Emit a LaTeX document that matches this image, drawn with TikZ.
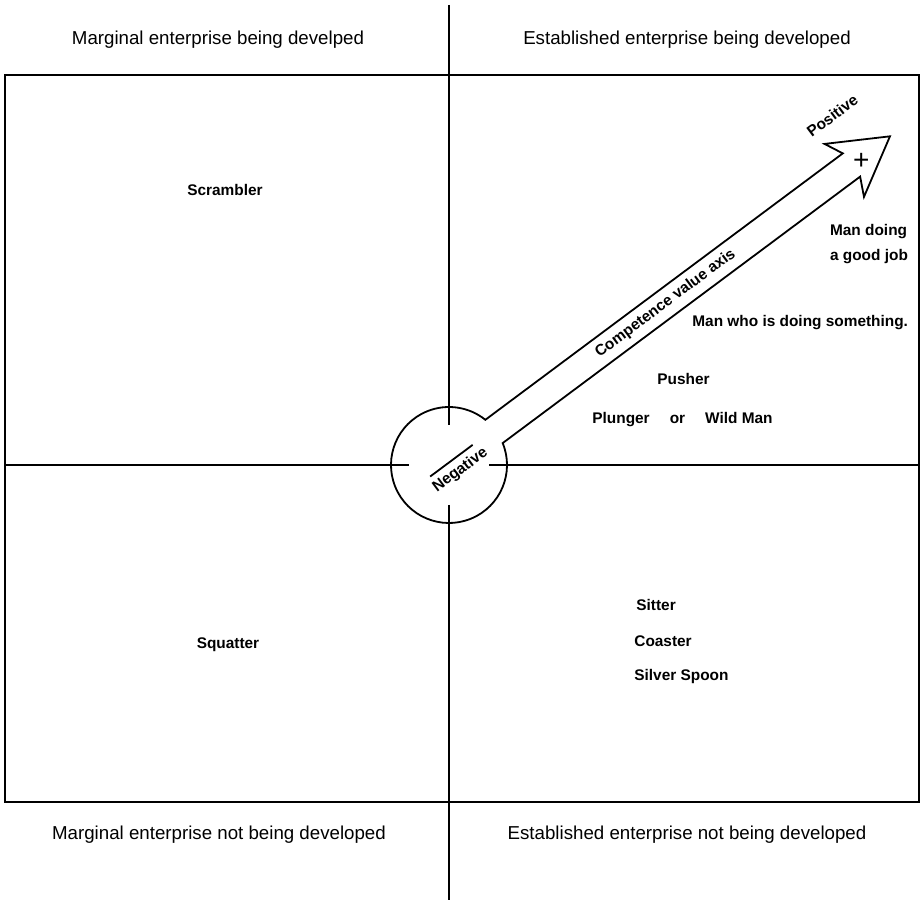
\documentclass[tikz,border=0pt]{standalone}
\usepackage{fontspec}
\setmainfont{Liberation Sans}
\usetikzlibrary{positioning}
\tikzset{
  quadlabel/.style={font=\fontsize{9.35}{11}\selectfont,inner sep=0pt},
  typelabel/.style={font=\fontsize{7.7}{12.5}\selectfont\bfseries,inner sep=0pt},
  axislabel/.style={typelabel,rotate=36.7},
  gridline/.style={line width=0.9pt},
  axisarrow/.style={line width=0.9pt,line join=miter}
}

\begin{document}
\begin{tikzpicture}[x=0.5pt,y=-0.5pt]
\useasboundingbox (0,0) rectangle (922,903);

% frame and quadrant axes
\draw[gridline] (5,75) rectangle (919,802);
\coordinate (origin) at (449,465);
\coordinate (ntop) at (449,5);
\coordinate (nin) at (449,425);
\coordinate (sbot) at (449,900);
\coordinate (sin) at (449,505);
\coordinate (wout) at (5,465);
\coordinate (win) at (409,465);
\coordinate (eout) at (919,465);
\coordinate (ein) at (489,465);
\draw[gridline] (ntop) -- (nin);
\draw[gridline] (sin) -- (sbot);
\draw[gridline] (wout) -- (win);
\draw[gridline] (ein) -- (eout);

% quadrant titles
\node[quadlabel] (mdev) at (218,40) {Marginal enterprise being develped};
\node[quadlabel] (edev) at (687,40) {Established enterprise being developed};
\node[quadlabel] (mnot) at (219,835) {Marginal enterprise not being developed};
\node[quadlabel] (enot) at (687,835) {Established enterprise not being developed};

% types
\node[typelabel] (scrambler) at (225,190) {Scrambler};
\node[typelabel] (squatter) at (228,645) {Squatter};
\node[typelabel,anchor=west] (sitter) at (636,605) {Sitter};
\node[typelabel,anchor=west] (coaster) at (634,641) {Coaster};
\node[typelabel,anchor=west] (spoon) at (634,677) {Silver Spoon};
\node[typelabel,anchor=west] (pusher) at (657,379) {Pusher};
\node[typelabel,anchor=west] (plunger) at (592,420) {Plunger\hspace{1.3em}or\hspace{1.3em}Wild Man};
\node[typelabel,anchor=west] (something) at (692,323) {Man who is doing something.};
\node[typelabel,align=left] (goodjob) at (869,244) {Man doing\\a good job};

% competence value axis
\begin{scope}[shift={(origin)},rotate=36.7]
  \draw[axisarrow] (14.5:58) arc[start angle=14.5,end angle=345.5,radius=58]
    -- (502,-14.5) -- (493,-33) -- (550,0) -- (493,33) -- (502,14.5) -- cycle;
  \node[axislabel] (competence) at (270,0) {Competence value axis};
  \node[axislabel] (positive) at (516,-51) {Positive};
  \node[axislabel] (negative) at (6,11) {Negative};
  \draw[gridline] (-22,-2) -- (31,-2);
  \node[font=\fontsize{14}{14}\selectfont,inner sep=0pt] (plus) at (512,3) {+};
\end{scope}
\end{tikzpicture}
\end{document}
